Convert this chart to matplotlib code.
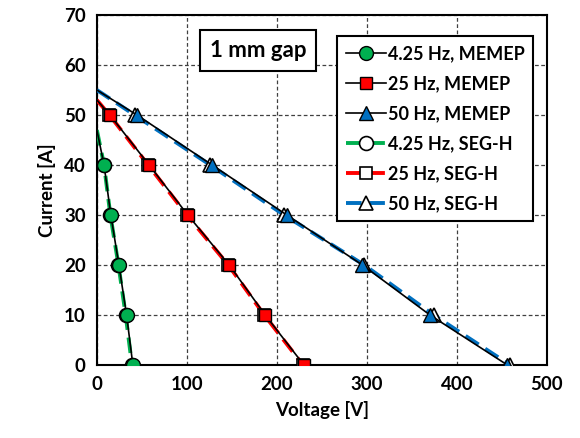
import numpy as np
import matplotlib.pyplot as plt

plt.rcParams['font.family'] = ['Lato', 'DejaVu Sans']
plt.rcParams['font.weight'] = 'bold'

# current levels [A]; first point of each line is the intercept on the y axis (no marker)
cur_425 = [47, 40, 30, 20, 10, 0]
cur_25 = [53, 50, 40, 30, 20, 10, 0]
cur_50 = [55, 50, 40, 30, 20, 10, 0]

# voltages [V]
v_425_memep = [0, 8, 15.5, 24.5, 33, 40]
v_25_memep = [0, 14.5, 58, 101, 147, 187, 230]
v_50_memep = [0, 44.5, 128, 211, 295, 370, 456]

v_425_segh = [0, 8, 15, 24, 32, 39]
v_25_segh = [0, 14, 57, 100, 146, 186, 229]
v_50_segh = [0, 42, 126, 208, 297, 374, 459]

green = '#00b050'
red = '#ff0000'
blue = '#0070c0'

fig = plt.figure(figsize=(5.8, 4.38), dpi=100)
ax = fig.add_axes([0.167, 0.1667, 0.776, 0.799])

ms = 10
dash = (0, (4, 2))
# SEG-H first so MEMEP markers sit on top
ax.plot(v_425_segh, cur_425, color=green, lw=2.8, ls=dash, marker='o', ms=ms,
        mfc='white', mec='black', mew=1.2, markevery=list(range(1, 6)), label='4.25 Hz, SEG-H', zorder=3)
ax.plot(v_25_segh, cur_25, color=red, lw=2.8, ls=dash, marker='s', ms=ms - 1,
        mfc='white', mec='black', mew=1.2, markevery=list(range(1, 7)), label='25 Hz, SEG-H', zorder=3)
ax.plot(v_50_segh, cur_50, color=blue, lw=2.8, ls=dash, marker='^', ms=ms,
        mfc='white', mec='black', mew=1.2, markevery=list(range(1, 7)), label='50 Hz, SEG-H', zorder=3)

ax.plot(v_425_memep, cur_425, color='black', lw=1.2, marker='o', ms=ms,
        mfc=green, mec='black', mew=1.0, markevery=list(range(1, 6)), label='4.25 Hz, MEMEP', zorder=4)
ax.plot(v_25_memep, cur_25, color='black', lw=1.2, marker='s', ms=ms - 1,
        mfc=red, mec='black', mew=1.0, markevery=list(range(1, 7)), label='25 Hz, MEMEP', zorder=4)
ax.plot(v_50_memep, cur_50, color='black', lw=1.2, marker='^', ms=ms,
        mfc=blue, mec='black', mew=1.0, markevery=list(range(1, 7)), label='50 Hz, MEMEP', zorder=4)

ax.set_xlim(0, 500)
ax.set_ylim(0, 70)
ax.set_xticks(np.arange(0, 501, 100))
ax.set_yticks(np.arange(0, 71, 10))
ax.tick_params(length=0, labelsize=13.5, pad=8)
for lab in ax.get_xticklabels() + ax.get_yticklabels():
    lab.set_fontweight('bold')
ax.grid(True, ls=(0, (3, 2)), color='#404040', lw=0.9)
ax.set_axisbelow(True)
for s in ax.spines.values():
    s.set_linewidth(1.5)
    s.set_color('black')

ax.set_xlabel('Voltage [V]', fontsize=13.5, fontweight='bold', labelpad=6)
ax.set_ylabel('Current [A]', fontsize=13.5, fontweight='bold', labelpad=6)

ax.text(179, 63, '1 mm gap', fontsize=16, fontweight='bold', ha='center', va='center',
        bbox=dict(boxstyle='square,pad=0.45', fc='white', ec='black', lw=1.5), zorder=5)

handles, labels = ax.get_legend_handles_labels()
order = [3, 4, 5, 0, 1, 2]
leg = ax.legend([handles[i] for i in order], [labels[i] for i in order],
                loc='upper right', bbox_to_anchor=(0.99, 0.965),
                frameon=True, fancybox=False, edgecolor='black', framealpha=1,
                handlelength=2.2, handletextpad=0.1, labelspacing=0.72, borderpad=0.5,
                prop={'weight': 'bold', 'size': 13})
leg.get_frame().set_linewidth(1.5)
leg.set_zorder(6)

fig.savefig('out.png', dpi=100)
